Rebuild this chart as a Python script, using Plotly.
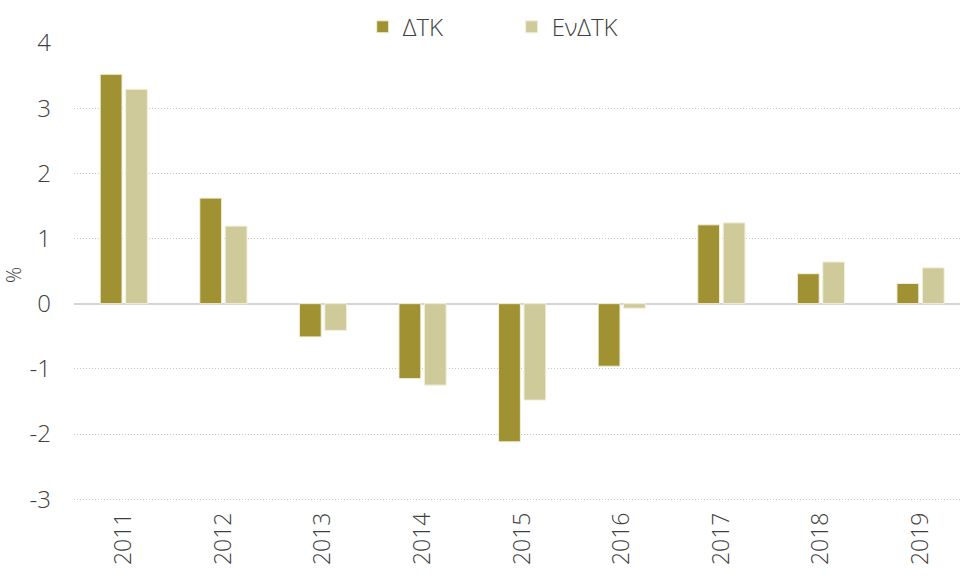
import plotly.graph_objects as go

years = ["2011", "2012", "2013", "2014", "2015", "2016", "2017", "2018", "2019"]
dtk = [3.52, 1.62, -0.51, -1.15, -2.12, -0.96, 1.21, 0.46, 0.31]
endtk = [3.29, 1.19, -0.41, -1.25, -1.48, -0.07, 1.24, 0.64, 0.55]
series_names = ["ΔΤΚ", "ΕνΔΤΚ"]
colors = ["#A09232", "#CFCA9A"]
y_ticks = [-3, -2, -1, 0, 1, 2, 3, 4]

fig = go.Figure()
for name, vals, col in zip(series_names, [dtk, endtk], colors):
    fig.add_trace(go.Bar(
        x=years, y=vals, name=name,
        marker=dict(color=col, line=dict(color="#F3F0DC", width=1)),
    ))

font_family = "Open Sans, Lato, sans-serif"
fig.update_layout(
    width=960, height=578,
    margin=dict(l=74, r=0, t=43, b=71, autoexpand=False),
    paper_bgcolor="white", plot_bgcolor="white",
    barmode="group", bargap=0.49, bargroupgap=0.14,
    font=dict(family=font_family, color="#404040", size=22, weight=300),
    showlegend=True,
    legend=dict(orientation="h", x=0.494, xanchor="center",
                yref="container", y=0.953, yanchor="middle",
                font=dict(size=24, color="#404040"), itemwidth=30,
                entrywidth=104, bgcolor="rgba(0,0,0,0)"),
    xaxis=dict(
        type="category", range=[-0.5, 8.396], tickangle=-90,
        tickfont=dict(size=23, color="#404040"), automargin=False,
        showgrid=False, showline=False, ticks="", zeroline=False,
    ),
    yaxis=dict(
        range=[-3.12, 4.0], tickvals=y_ticks, ticktext=[str(v) for v in y_ticks],
        tickfont=dict(size=24, color="#404040"), automargin=False,
        showgrid=True, gridcolor="#C8C8C8", griddash="1px,2px", gridwidth=1,
        zeroline=True, zerolinecolor="#D4D4D4", zerolinewidth=2,
        ticks="", showline=False, ticklabelstandoff=22,
        title=dict(text="%", font=dict(size=20, color="#404040"), standoff=4),
    ),
)

fig.write_html(
    "out.html",
    config={"displayModeBar": False},
    post_script="document.body.style.margin='0';document.body.style.overflow='hidden';",
)
